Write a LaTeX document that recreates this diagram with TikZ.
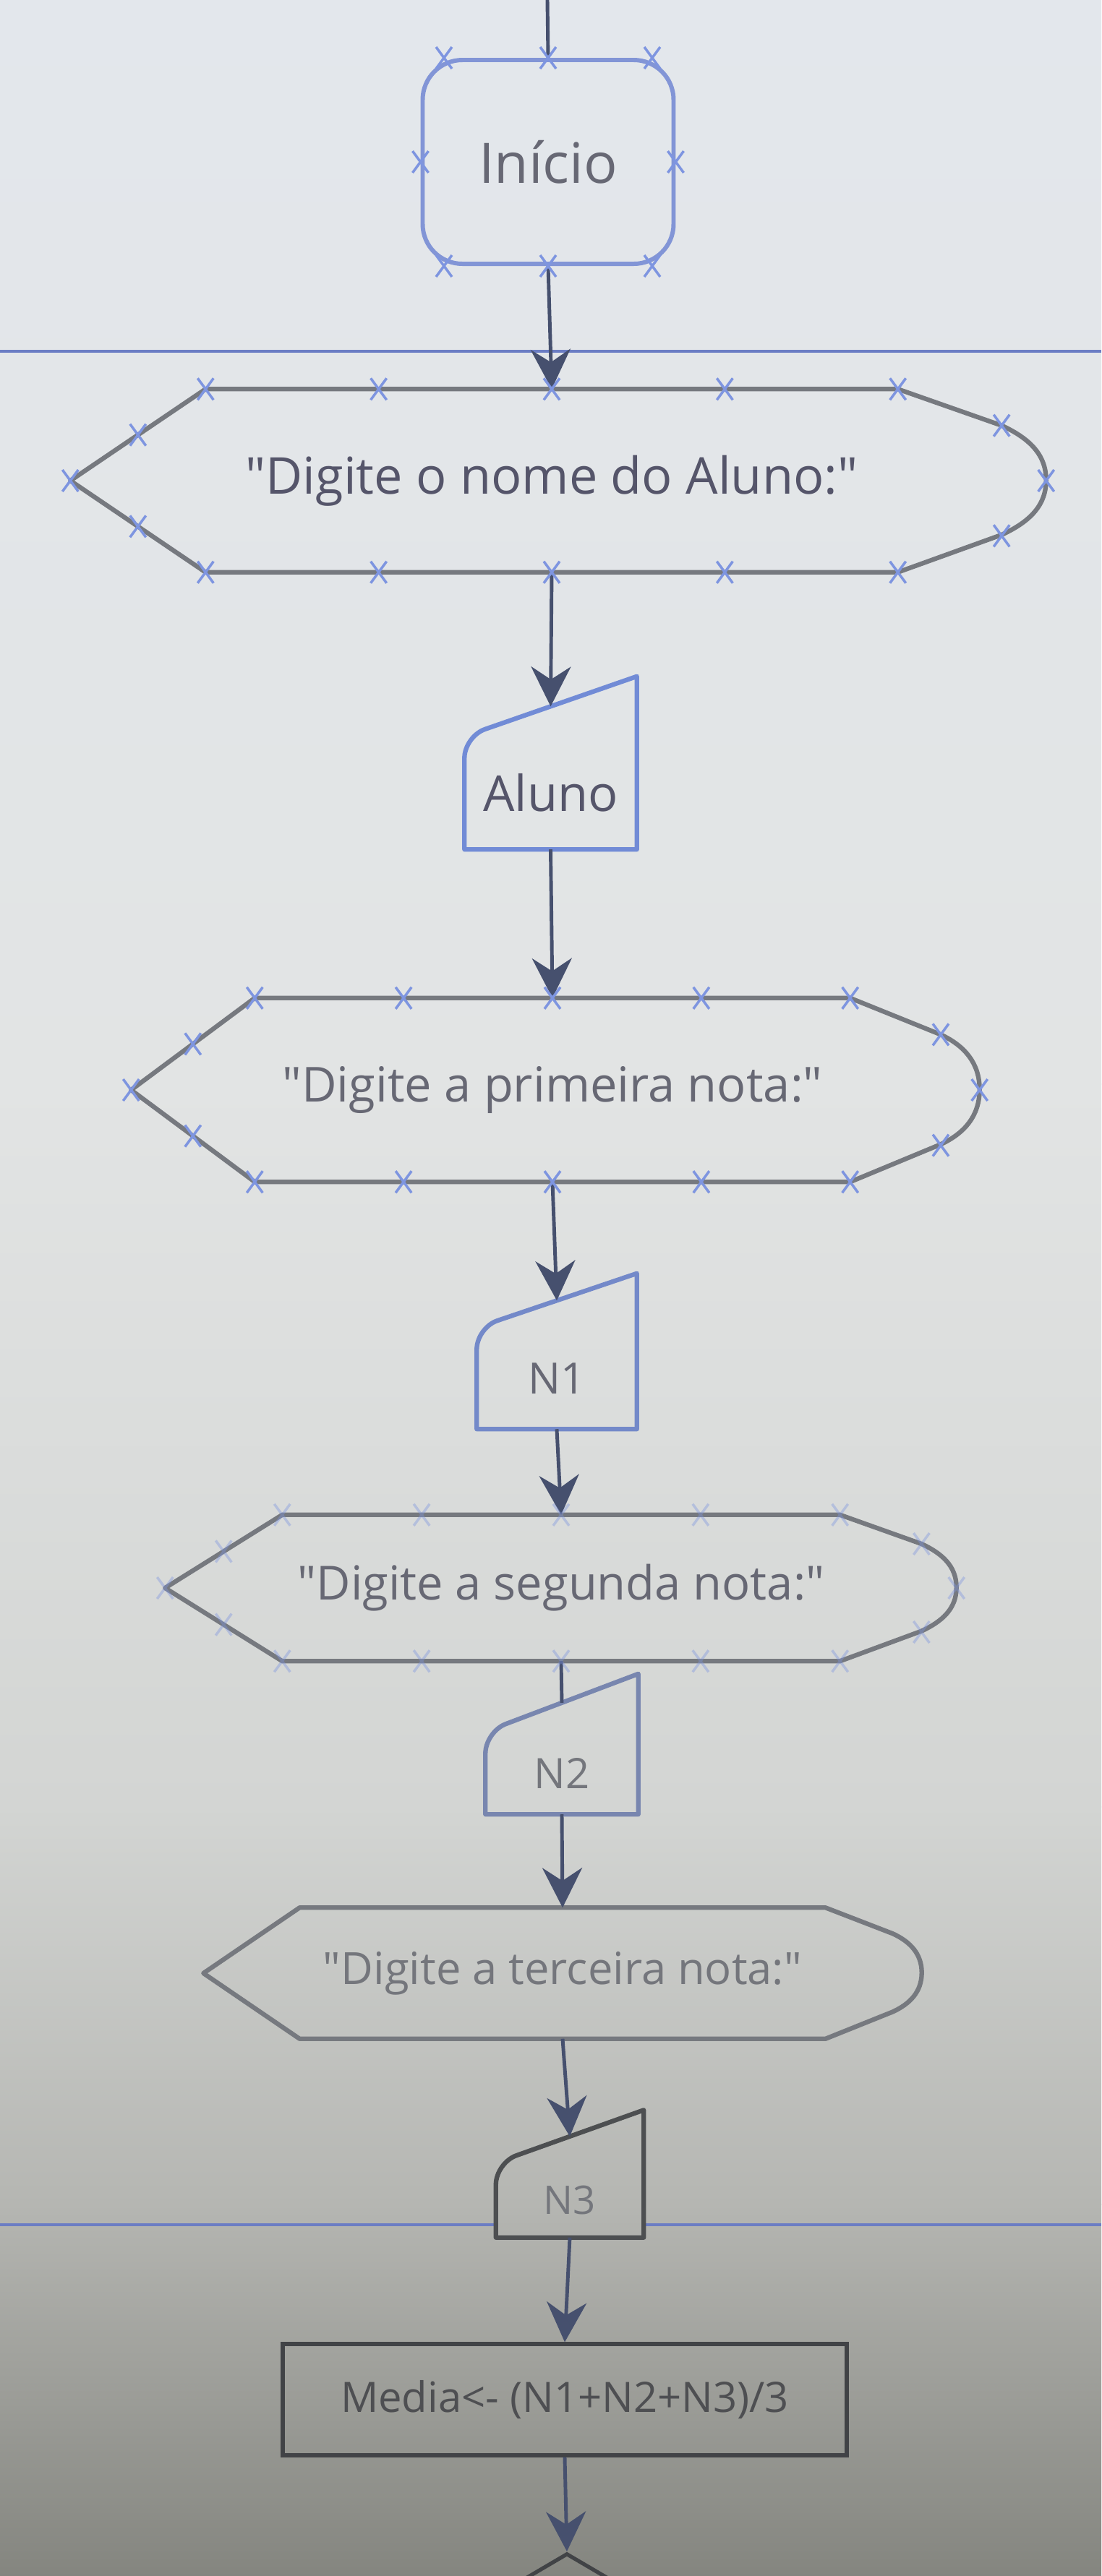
\documentclass[tikz,border=0pt]{standalone}
\usepackage{fontspec}
\setmainfont{Open Sans}[Ligatures=TeXOff]
\usetikzlibrary{arrows.meta,calc,shapes.geometric}

\definecolor{bgA}{HTML}{E3E7EC}
\definecolor{bgB}{HTML}{E2E4E4}
\definecolor{bgC}{HTML}{D3D5D3}
\definecolor{bgD}{HTML}{B5B6B2}
\definecolor{bgE}{HTML}{84857F}
\definecolor{linegray}{HTML}{76797F}
\definecolor{flowcol}{HTML}{46506E}
\definecolor{handleblue}{HTML}{7E95E0}
\definecolor{pageblue}{HTML}{6B7DC4}
\definecolor{iniblue}{HTML}{8295D6}
\definecolor{inblue}{HTML}{718BD6}
\definecolor{txtA}{HTML}{55556A}
\definecolor{txtB}{HTML}{676874}
\definecolor{txtC}{HTML}{74767C}
\definecolor{boxcol}{HTML}{414346}

\newcommand{\fsz}[1]{\fontsize{#1}{#1}\selectfont}

% cruzinhas de selecao do editor
\newcommand{\hmark}[1]{\draw[handle] (#1) +(-.11,-.15) -- +(.11,.15) +(-.11,.15) -- +(.11,-.15);}

% saida (display): no, ponta esq., bojo dir., altura
\newcommand{\dispshape}[4]{%
  \draw[shapeline] (#1.north west) -- (#1.north east)
    -- ++(0.7*#3,-0.2*#4) to[out=-25,in=90] ++(0.3*#3,-0.3*#4)
    to[out=-90,in=25] ++(-0.3*#3,-0.3*#4) -- (#1.south east)
    -- (#1.south west) -- ($(#1.west)+(-#2,0)$) -- cycle;
  \coordinate (#1-l) at ($(#1.west)+(-#2,0)$);
  \coordinate (#1-r) at ($(#1.east)+(#3,0)$);
}
\newcommand{\disphandles}[4]{%
  \foreach \f in {0,0.25,0.5,0.75,1} {
    \hmark{$(#1.north west)!\f!(#1.north east)$}
    \hmark{$(#1.south west)!\f!(#1.south east)$}
  }
  \hmark{$(#1.north west)!.5!(#1-l)$}
  \hmark{$(#1.south west)!.5!(#1-l)$}
  \hmark{#1-l}
  \hmark{$(#1.north east)+(0.7*#3,-0.2*#4)$}
  \hmark{$(#1.south east)+(0.7*#3,0.2*#4)$}
  \hmark{#1-r}
}
% entrada manual: no, subida da borda, cor
\newcommand{\inshape}[3]{%
  \draw[shapeline,draw=#3] (#1.south west) [rounded corners=0.3cm] -- (#1.north west)
    [sharp corners] -- ($(#1.north east)+(0,#2)$) -- (#1.south east) -- cycle;
  \coordinate (#1-in) at ($(#1.north)+(0,0.5*#2)$);
}

\begin{document}
\begin{tikzpicture}[
    shapeline/.style={line width=1.8pt, draw=linegray, line join=round},
    flow/.style={line width=1.4pt, draw=flowcol, -{Stealth[length=5.5mm,width=5.5mm]}},
    link/.style={line width=1.4pt, draw=flowcol},
    body/.style={rectangle, inner sep=0pt},
    handle/.style={draw=handleblue, line width=1pt},
    pageline/.style={draw=pageblue, line width=1.3pt}]

  \useasboundingbox (0,0) rectangle (15.23,-35.64);
  \clip (0,0) rectangle (15.23,-35.64);

  % fundo (foto da tela)
  \shade[top color=bgA, bottom color=bgB] (0,0.02) rectangle (15.23,-15);
  \shade[top color=bgB, bottom color=bgC] (0,-14.99) rectangle (15.23,-25);
  \shade[top color=bgC, bottom color=bgD] (0,-24.99) rectangle (15.23,-30.5);
  \shade[top color=bgD, bottom color=bgE] (0,-30.49) rectangle (15.23,-35.66);

  \coordinate (topo) at (7.57,0);
  \coordinate (pg1L) at (0,-4.86);
  \coordinate (pg1R) at (15.23,-4.86);
  \coordinate (pg2L) at (0,-30.78);
  \coordinate (pg2R) at (15.23,-30.78);

  % nos
  \node[body, draw=iniblue, line width=1.7pt, rounded corners=0.55cm,
        minimum width=3.47cm, minimum height=2.82cm, text=txtB, font=\fsz{22}]
        (ini) at (7.58,-2.24) {Início};
  \node[body, minimum width=9.56cm, minimum height=2.52cm, text=txtA, font=\fsz{20}]
        (h1) at (7.63,-6.65) {"Digite o nome do Aluno:"};
  \node[body, minimum width=2.37cm, minimum height=1.55cm, text=txtA, font=\fsz{19.5}]
        (aluno) at (7.615,-10.97) {Aluno};
  \node[body, minimum width=8.22cm, minimum height=2.53cm, text=txtB, font=\fsz{19}]
        (h2) at (7.64,-15.08) {"Digite a primeira nota:"};
  \node[body, minimum width=2.2cm, minimum height=1.39cm, text=txtB, font=\fsz{17}]
        (n1) at (7.70,-19.07) {N1};
  \node[body, minimum width=7.70cm, minimum height=2.01cm, text=txtB, font=\fsz{18.5}]
        (h3) at (7.76,-21.97) {"Digite a segunda nota:"};
  \node[body, minimum width=2.1cm, minimum height=1.13cm, text=txtC, font=\fsz{16.5}]
        (n2) at (7.77,-24.53) {N2};
  \node[body, minimum width=7.26cm, minimum height=1.80cm, text=txtC, font=\fsz{17.5}]
        (h4) at (7.78,-27.30) {"Digite a terceira nota:"};
  \node[body, minimum width=2.03cm, minimum height=1.02cm, text=txtC, font=\fsz{15.5}]
        (n3) at (7.88,-30.44) {N3};
  \node[body, draw=boxcol, line width=1.5pt, minimum width=7.80cm, minimum height=1.54cm,
        text=boxcol!80!gray, font=\fsz{16.5}]
        (media) at (7.81,-33.20) {Media<- (N1+N2+N3)/3};
  \node[diamond, draw=boxcol, line width=1.5pt, minimum width=6.8cm, minimum height=4cm,
        inner sep=0pt, anchor=north] (decisao) at (7.84,-35.30) {};

  % linhas de pagina
  \draw[pageline] (pg1L) -- (pg1R);
  \draw[pageline] (pg2L) -- (pg2L -| n3.west);
  \draw[pageline] (pg2R -| n3.east) -- (pg2R);

  % contornos
  \dispshape{h1}{1.87}{2.05}{2.52}
  \dispshape{h2}{1.71}{1.79}{2.53}
  \dispshape{h3}{1.62}{1.61}{2.01}
  \dispshape{h4}{1.33}{1.33}{1.80}
  \inshape{aluno}{0.83}{inblue}
  \inshape{n1}{0.75}{inblue!85!gray}
  \inshape{n2}{0.80}{inblue!55!gray}
  \inshape{n3}{0.73}{boxcol!80!gray}

  % ligacoes
  \draw[link] (topo) -- (ini.north);
  \draw[flow] (ini.south) -- (h1.north);
  \draw[flow] (h1.south) -- (aluno-in);
  \draw[flow] (aluno.south) -- (h2.north);
  \draw[flow] (h2.south) -- (n1-in);
  \draw[flow] (n1.south) -- (h3.north);
  \draw[link] (h3.south) -- (n2-in);
  \draw[flow] (n2.south) -- (h4.north);
  \draw[flow] (h4.south) -- (n3-in);
  \draw[flow] (n3.south) -- (media.north);
  \draw[flow] (media.south) -- (decisao.north);

  % selecao
  \foreach \a in {north,south,east,west,45,135,225,315} {
    \hmark{ini.\a}
  }
  \disphandles{h1}{1.87}{2.05}{2.52}
  \disphandles{h2}{1.71}{1.79}{2.53}
  \begin{scope}[handle/.append style={draw opacity=.4}]
    \disphandles{h3}{1.62}{1.61}{2.01}
  \end{scope}
\end{tikzpicture}
\end{document}
